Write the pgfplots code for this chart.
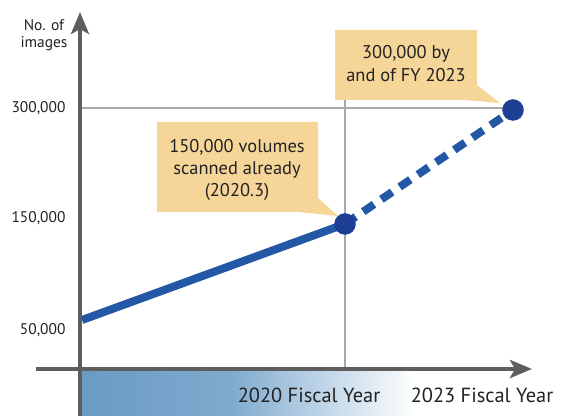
\documentclass[border=0pt]{standalone}
\usepackage{pgfplots}
\pgfplotsset{compat=1.18}
\usepackage{fontspec}
\setmainfont{PT Sans}
\usetikzlibrary{arrows.meta}
\definecolor{axgray}{HTML}{5E5E5E}
\definecolor{gridgray}{HTML}{A8A8A8}
\definecolor{callout}{HTML}{F6D598}
\definecolor{lineblue}{HTML}{2258A6}
\definecolor{markblue}{HTML}{1C3F94}
\definecolor{gradA}{HTML}{6A9BC4}
\definecolor{gradB}{HTML}{7FAACE}
\definecolor{txt}{HTML}{222222}
\begin{document}
\begin{tikzpicture}
\begin{axis}[at={(0,0)}, anchor=south west, width=566bp, height=416bp, scale only axis,
  xmin=0, xmax=566, ymin=0, ymax=416, hide axis, clip=false]
\path (axis cs:0,0) rectangle (axis cs:566,416);
% gradient band
\fill[left color=gradA, right color=gradB] (axis cs:82,0) rectangle (axis cs:230,44);
\fill[left color=gradB, right color=white] (axis cs:229.5,0) rectangle (axis cs:415,44);
% guide lines
\draw[gridgray, line width=2bp] (axis cs:82,308) -- (axis cs:505,308);
\draw[gridgray, line width=2bp] (axis cs:345,47) -- (axis cs:345,330);
% callouts
\fill[callout] (axis cs:157,294) -- (axis cs:318,294) -- (axis cs:318,218) -- (axis cs:338,200) -- (axis cs:298,204) -- (axis cs:157,204) -- cycle;
\fill[callout] (axis cs:335,386) -- (axis cs:477,386) -- (axis cs:477,331) -- (axis cs:500,313) -- (axis cs:465,316) -- (axis cs:335,316) -- cycle;
% data
\addplot[lineblue, line width=8bp, line cap=butt] coordinates {(82,96) (345,192)};
\addplot[lineblue, line width=8bp, line cap=butt, dash pattern=on 13bp off 9bp] coordinates {(345,192) (513,306)};
\addplot[only marks, mark=*, mark size=10.5bp, mark options={fill=markblue, draw=markblue}] coordinates {(345,192) (513,306)};
% axes
\draw[axgray, line width=4.5bp, -{Stealth[length=22bp,width=18bp,inset=5bp]}] (axis cs:80,0) -- (axis cs:80,404);
\draw[axgray, line width=4.5bp, -{Stealth[length=22bp,width=18bp,inset=5bp]}] (axis cs:36,47) -- (axis cs:532,47);
% labels
\node[align=center, font=\fontsize{15.5}{17}\selectfont, text=txt] at (axis cs:44,381) {No. of\\images};
\node[anchor=east, font=\fontsize{15.5}{17}\selectfont, text=txt] at (axis cs:69,308) {300,000};
\node[anchor=east, font=\fontsize{15.5}{17}\selectfont, text=txt] at (axis cs:69,198) {150,000};
\node[anchor=east, font=\fontsize{15.5}{17}\selectfont, text=txt] at (axis cs:69,86) {50,000};
\node[font=\fontsize{20.5}{22}\selectfont, text=txt] at (axis cs:309,21) {2020 Fiscal Year};
\node[font=\fontsize{20.5}{22}\selectfont, text=txt] at (axis cs:482,21) {2023 Fiscal Year};
\node[align=center, font=\fontsize{18.5}{22}\selectfont, text=txt] at (axis cs:237,246) {150,000 volumes\\scanned already\\(2020.3)};
\node[align=center, font=\fontsize{18.5}{23}\selectfont, text=txt] at (axis cs:406,352.5) {300,000 by\\and of FY 2023};
\end{axis}
\end{tikzpicture}
\end{document}
